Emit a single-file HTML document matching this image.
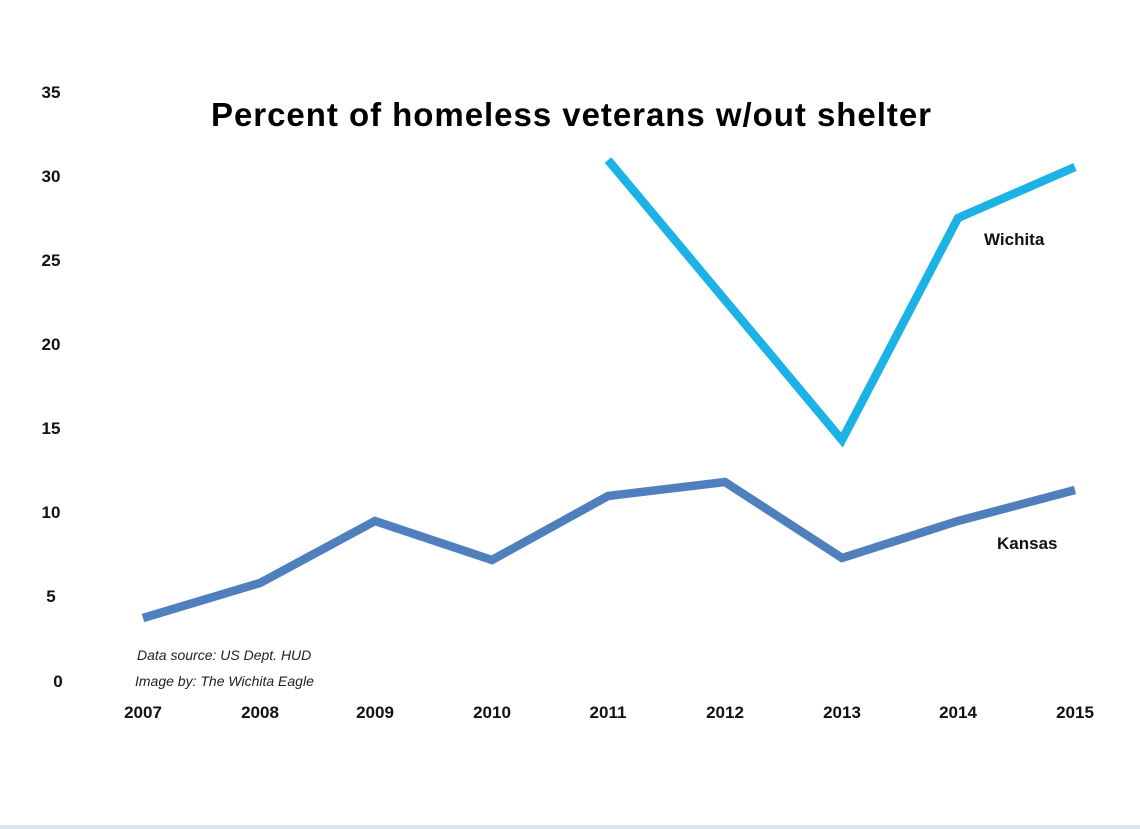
<!DOCTYPE html>
<html><head><style>body{margin:0;background:#fff}svg{display:block}</style></head>
<body>
<svg width="1140" height="829" xmlns="http://www.w3.org/2000/svg" font-family="Liberation Sans, sans-serif">
<rect width="1140" height="829" fill="#fff"/>
<text x="211" y="126" font-size="33" font-weight="bold" fill="#000" textLength="720" lengthAdjust="spacing">Percent of homeless veterans w/out shelter</text>
<g font-size="17" font-weight="bold" fill="#111" text-anchor="middle">
<text x="51" y="98">35</text><text x="51" y="182">30</text><text x="51" y="266">25</text>
<text x="51" y="350">20</text><text x="51" y="434">15</text><text x="51" y="518">10</text>
<text x="51" y="602">5</text><text x="58" y="687">0</text>
<text x="143" y="718">2007</text><text x="260" y="718">2008</text><text x="375" y="718">2009</text>
<text x="492" y="718">2010</text><text x="608" y="718">2011</text><text x="725" y="718">2012</text>
<text x="842" y="718">2013</text><text x="958" y="718">2014</text><text x="1075" y="718">2015</text>
</g>
<g font-size="14" font-style="italic" fill="#222">
<text x="137" y="660">Data source: US Dept. HUD</text>
<text x="135" y="686">Image by: The Wichita Eagle</text>
</g>
<polyline points="143,618 260,583 375,521 492,560 608,496 725,482 842,558 958,521 1075,490" fill="none" stroke="#4f7fbd" stroke-width="8.5"/>
<polyline points="608,160 842,440 958,218 1075,167" fill="none" stroke="#1cb2e6" stroke-width="8.5"/>
<g font-size="17" font-weight="bold" fill="#111">
<text x="984" y="245">Wichita</text>
<text x="997" y="549">Kansas</text>
</g>
<rect x="0" y="825" width="1140" height="4" fill="#dde6ee"/>
</svg>
</body></html>
